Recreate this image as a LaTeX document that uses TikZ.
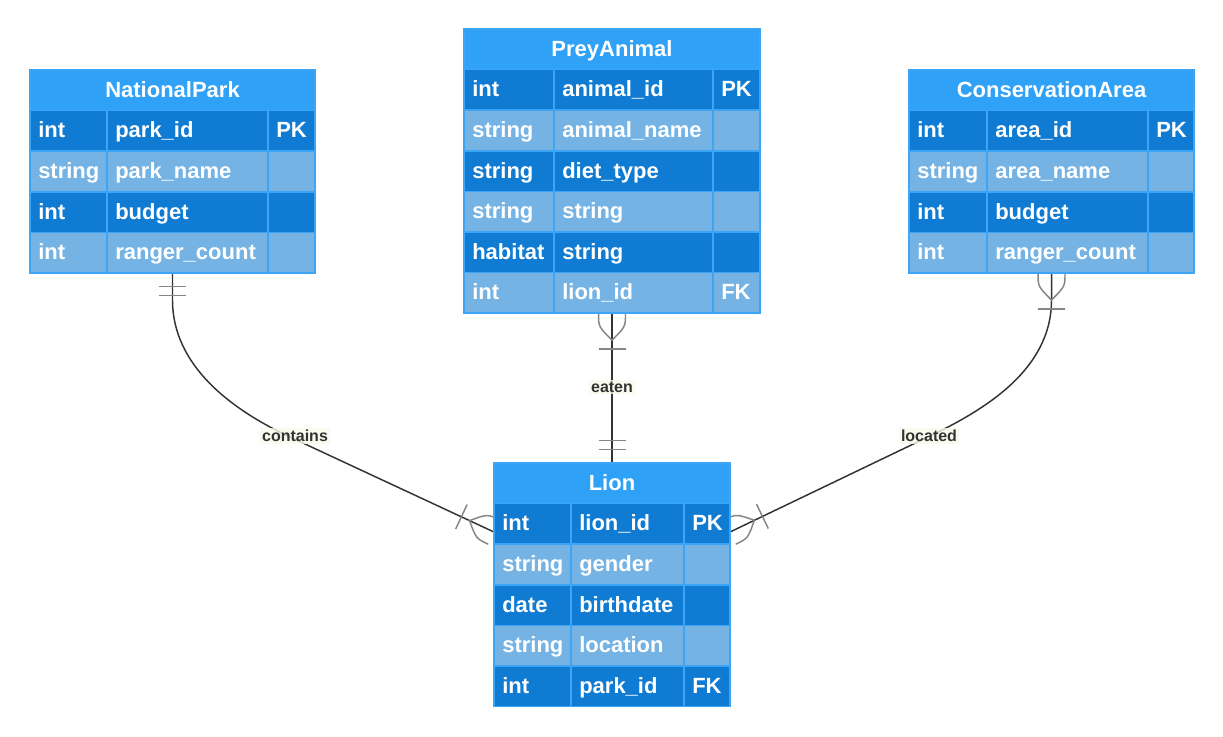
\documentclass[tikz,border=0pt]{standalone}
\usepackage{fontspec}
\setmainfont{Liberation Sans}
\usetikzlibrary{calc,fit,backgrounds}

\definecolor{hdr}{HTML}{2FA1F7}
\definecolor{rowdark}{HTML}{107BD2}
\definecolor{rowlight}{HTML}{74B3E3}
\definecolor{cellline}{HTML}{3DA5F5}
\definecolor{edgeline}{HTML}{333333}
\definecolor{markline}{HTML}{858585}
\definecolor{labelbg}{HTML}{F7FAEA}

\tikzset{
  cell/.style={draw=cellline, line width=1.2pt},
  celltext/.style={anchor=base west, inner sep=0, text=white, font=\bfseries\fontsize{16.5}{19}\selectfont},
  titletext/.style={anchor=base, inner sep=0, text=white, font=\bfseries\fontsize{16.5}{19}\selectfont},
  relation/.style={draw=edgeline, line width=1.1pt},
  marker/.style={draw=markline, line width=1.1pt},
  rellabel/.style={fill=labelbg, fill opacity=0.8, text opacity=1, text=edgeline,
    inner sep=1.5pt, font=\bfseries\fontsize{12}{14}\selectfont},
  pics/manyend/.style={code={
    \draw[marker] (0,-13.5) .. controls (13.5,-13.5) .. (27,0) .. controls (13.5,13.5) .. (0,13.5);
    \draw[marker] (36,-13.5) -- (36,13.5);
  }},
  pics/oneend/.style={code={
    \draw[marker] (13.5,-13.5) -- (13.5,13.5);
    \draw[marker] (22.5,-13.5) -- (22.5,13.5);
  }},
}

% entity table: name, left, split1, split2, right, top, rows, title, row list
\newcommand{\erentity}[9]{%
  \def\rh{40.6}%
  \fill[hdr] (#2,#6) rectangle ({#5},{#6+\rh});
  \node[titletext] at ({(#2+#5)/2},{#6+\rh/2+7}) {#8};
  \foreach \ty/\nm/\ky [count=\i] in {#9} {
    \pgfmathsetmacro{\yt}{#6+\i*\rh}
    \pgfmathtruncatemacro{\odd}{mod(\i,2)}
    \ifnum\odd=1 \def\rc{rowdark}\else\def\rc{rowlight}\fi
    \fill[\rc] (#2,\yt) rectangle ({#5},{\yt+\rh});
    \draw[cell] (#2,\yt) rectangle ({#3},{\yt+\rh})
                (#3,\yt) rectangle ({#4},{\yt+\rh})
                (#4,\yt) rectangle ({#5},{\yt+\rh});
    \node[celltext] at ({#2+8},{\yt+\rh/2+7}) {\ty};
    \node[celltext] at ({#3+8},{\yt+\rh/2+7}) {\nm};
    \node[celltext] at ({#4+8},{\yt+\rh/2+7}) {\ky};
  }
  \draw[cell] (#2,#6) rectangle ({#5},{#6+(#7+1)*\rh});
  \node[fit={(#2,#6) ({#5},{#6+(#7+1)*\rh})}, inner sep=0, outer sep=0] (#1) {};
}

\begin{document}
\begin{tikzpicture}[x=0.75pt, y=-0.75pt]
\useasboundingbox (0,0) rectangle (1223,736);

\erentity{park}{30}{107}{268}{315}{70}{4}{NationalPark}{
  int/park\_id/PK, string/park\_name/{}, int/budget/{}, int/ranger\_count/{}}
\erentity{prey}{464}{554}{713}{760}{29}{6}{PreyAnimal}{
  int/animal\_id/PK, string/animal\_name/{}, string/diet\_type/{},
  string/string/{}, habitat/string/{}, int/lion\_id/FK}
\erentity{area}{909}{987}{1148}{1194}{70}{4}{ConservationArea}{
  int/area\_id/PK, string/area\_name/{}, int/budget/{}, int/ranger\_count/{}}
\erentity{lion}{494}{571}{684}{730}{463}{5}{Lion}{
  int/lion\_id/PK, string/gender/{}, date/birthdate/{}, string/location/{}, int/park\_id/FK}

\coordinate (lionL) at (lion.west |- 0,532);
\coordinate (lionR) at (lion.east |- 0,532);

\begin{scope}[on background layer]
% relationships
\draw[relation] (park.south) -- ++(0,27) .. controls +(0,65) and +(-60,-28) .. (290,437) -- (lionL);
\draw[relation] (prey.south) -- (lion.north);
\draw[relation] (area.south) -- ++(0,27) .. controls +(0,70) and +(54,-26) .. (930,436) -- (lionR);

% cardinality marks
\pic[rotate=-90] at (park.south) {oneend};
\pic[rotate=155] at (lionL) {manyend};
\pic[rotate=-90] at (prey.south) {manyend};
\pic[rotate=90] at (lion.north) {oneend};
\pic[rotate=-90] at (area.south) {manyend};
\pic[rotate=25.75] at (lionR) {manyend};
\end{scope}

% relationship labels
\node[rellabel] (lblContains) at (295,436) {contains};
\node[rellabel] (lblEaten) at (612,387) {eaten};
\node[rellabel] (lblLocated) at (929,436) {located};
\end{tikzpicture}
\end{document}
